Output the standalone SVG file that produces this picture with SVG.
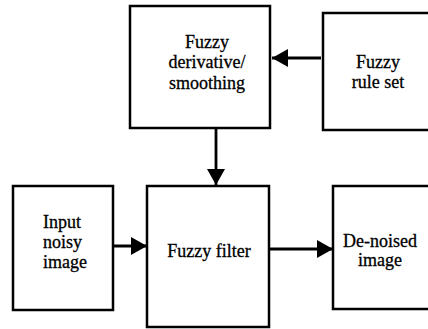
<svg xmlns="http://www.w3.org/2000/svg" width="428" height="329" viewBox="0 0 428 329">
<defs>
<marker id="ah" markerUnits="userSpaceOnUse" markerWidth="17" markerHeight="18" refX="16" refY="9" orient="auto">
<path d="M0,0 L16,9 L0,18 Z" fill="#000"/>
</marker>
</defs>
<rect width="428" height="329" fill="#fff"/>
<g id="connectors" stroke="#000" stroke-width="2.8" fill="none">
<line x1="321" y1="58" x2="272" y2="58" marker-end="url(#ah)"/>
<line x1="216" y1="129" x2="216" y2="185" marker-end="url(#ah)"/>
<line x1="113" y1="246" x2="147" y2="246" marker-end="url(#ah)"/>
<line x1="270" y1="249" x2="333" y2="249" marker-end="url(#ah)"/>
</g>
<g id="derivative">
<rect x="130" y="6" width="140" height="122" fill="#fff" stroke="#000" stroke-width="2.5"/>
<text x="207" y="48" font-family="Times New Roman" font-size="18" text-anchor="middle" stroke="#000" stroke-width="0.3">Fuzzy</text>
<text x="207" y="68" font-family="Times New Roman" font-size="18" text-anchor="middle" stroke="#000" stroke-width="0.3">derivative/</text>
<text x="207" y="89" font-family="Times New Roman" font-size="18" text-anchor="middle" stroke="#000" stroke-width="0.3">smoothing</text>
</g>
<g id="ruleset">
<rect x="323" y="13" width="120" height="117" fill="#fff" stroke="#000" stroke-width="2.5"/>
<text x="378" y="68" font-family="Times New Roman" font-size="18" text-anchor="middle" stroke="#000" stroke-width="0.3">Fuzzy</text>
<text x="378" y="88" font-family="Times New Roman" font-size="18" text-anchor="middle" stroke="#000" stroke-width="0.3">rule set</text>
</g>
<g id="input">
<rect x="13" y="186" width="100" height="124" fill="#fff" stroke="#000" stroke-width="2.5"/>
<text x="43" y="228" font-family="Times New Roman" font-size="18" stroke="#000" stroke-width="0.3">Input</text>
<text x="43" y="248" font-family="Times New Roman" font-size="18" stroke="#000" stroke-width="0.3">noisy</text>
<text x="43" y="268" font-family="Times New Roman" font-size="18" stroke="#000" stroke-width="0.3">image</text>
</g>
<g id="filter">
<rect x="147" y="186" width="122" height="141" fill="#fff" stroke="#000" stroke-width="2.5"/>
<text x="209" y="257" font-family="Times New Roman" font-size="18" text-anchor="middle" stroke="#000" stroke-width="0.3">Fuzzy filter</text>
</g>
<g id="denoised">
<rect x="333" y="186" width="110" height="123" fill="#fff" stroke="#000" stroke-width="2.5"/>
<text x="380" y="247" font-family="Times New Roman" font-size="18" text-anchor="middle" stroke="#000" stroke-width="0.3">De-noised</text>
<text x="380" y="266" font-family="Times New Roman" font-size="18" text-anchor="middle" stroke="#000" stroke-width="0.3">image</text>
</g>
</svg>
